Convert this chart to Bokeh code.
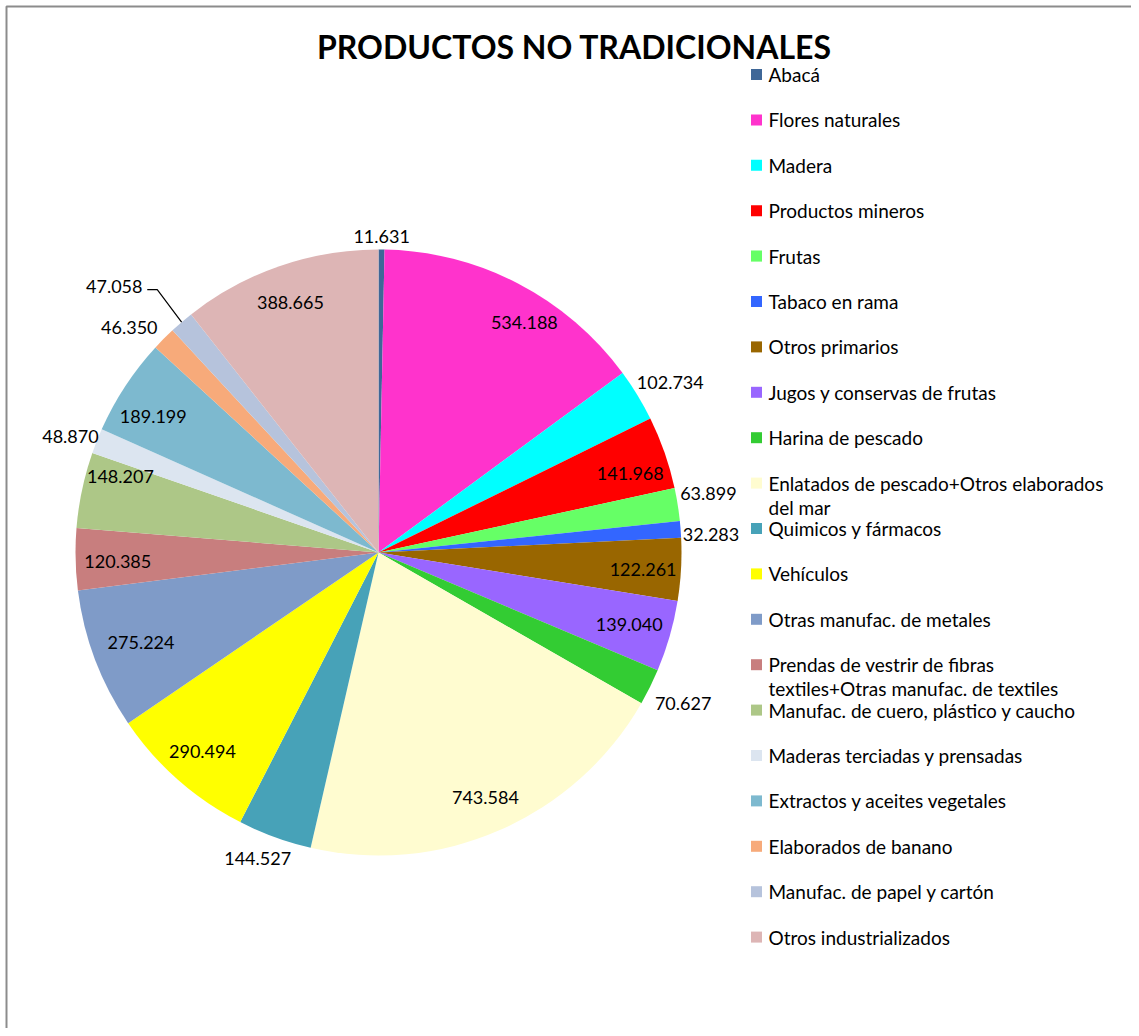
import math
from bokeh.plotting import figure
from bokeh.models import Range1d
from bokeh.core.properties import value
from bokeh.embed import file_html
from bokeh.resources import INLINE

# ---------------- data ----------------
title = "PRODUCTOS NO TRADICIONALES"
categories = [
    "Abacá", "Flores naturales", "Madera", "Productos mineros", "Frutas",
    "Tabaco en rama", "Otros primarios", "Jugos y conservas de frutas",
    "Harina de pescado", "Enlatados de pescado+Otros elaborados del mar",
    "Quimicos y fármacos", "Vehículos", "Otras manufac. de metales",
    "Prendas de vestrir de fibras textiles+Otras manufac. de textiles",
    "Manufac. de cuero, plástico y caucho", "Maderas terciadas y prensadas",
    "Extractos y aceites vegetales", "Elaborados de  banano",
    "Manufac. de papel y cartón", "Otros industrializados",
]
values = [
    11.631, 534.188, 102.734, 141.968, 63.899, 32.283, 122.261, 139.040,
    70.627, 743.584, 144.527, 290.494, 275.224, 120.385, 148.207, 48.870,
    189.199, 46.350, 47.058, 388.665,
]
value_labels = [
    "11.631", "534.188", "102.734", "141.968", "63.899", "32.283", "122.261",
    "139.040", "70.627", "743.584", "144.527", "290.494", "275.224", "120.385",
    "148.207", "48.870", "189.199", "46.350", "47.058", "388.665",
]
# legend display text (wrapped as in the original)
legend_lines = [
    ["Abacá"], ["Flores naturales"], ["Madera"], ["Productos mineros"], ["Frutas"],
    ["Tabaco en rama"], ["Otros primarios"], ["Jugos y conservas de frutas"],
    ["Harina de pescado"], ["Enlatados  de pescado+Otros elaborados", "del mar"],
    ["Quimicos y fármacos"], ["Vehículos"], ["Otras manufac. de metales"],
    ["Prendas de vestrir de fibras", "textiles+Otras manufac.  de textiles"],
    ["Manufac. de cuero, plástico  y caucho"], ["Maderas terciadas y prensadas"],
    ["Extractos y aceites vegetales"], ["Elaborados de  banano"],
    ["Manufac. de papel y cartón"], ["Otros industrializados"],
]

# ---------------- style / layout ----------------
colors = [
    "#3F6797", "#FF33CC", "#00FFFF", "#FF0000", "#66FF66", "#3366FF",
    "#996600", "#9966FF", "#33CC33", "#FFFCD0", "#47A2B8", "#FFFF00",
    "#7F9BC8", "#C87E7E", "#ADC787", "#DCE5F0", "#7DB9CF", "#F7AA7A",
    "#B6C3DC", "#DDB5B5",
]
# label radius (in pie radii) and angle nudge (degrees) per slice
label_r = [1.043, 0.898, 1.115, 0.871, 1.106, 1.099, 0.875, 0.861, 1.122, 0.881,
           1.086, 0.878, 0.838, 0.861, 0.888, 1.086, 0.868, 1.108, 1.237, 0.875]
label_da = [0, 5, 1, 1.8, -1, 1.3, 0.5, 0, 0, 0,
            1.5, 0, 0, -0.7, 4.5, -1, -2.2, -2.8, -4.3, -0.3]

W, H = 1131, 1028
FONT = value("Lato")


def sy(y_screen):
    """picture y (px from top) -> data y"""
    return H - y_screen


def sx(x_screen):
    return x_screen


CX, CY, R = sx(378), sy(552), 303

p = figure(width=W, height=H, output_backend="svg", toolbar_location=None,
           x_range=Range1d(0, W), y_range=Range1d(0, H), min_border=0)
p.axis.visible = False
p.grid.visible = False
p.background_fill_color = "white"
p.border_fill_color = "white"
p.outline_line_color = None

# chart-area frame (left and top edges visible, right/bottom run off)
p.line(x=[sx(6), sx(6), sx(W + 5)], y=[sy(H + 5), sy(6), sy(6)],
       line_color="#8C8C8C", line_width=2)

total = sum(values)
starts, ends, mids = [], [], []
acc = 0.0
for v in values:
    s = acc / total
    acc += v
    e = acc / total
    starts.append(math.radians(90 - 360 * e))
    ends.append(math.radians(90 - 360 * s))
    mids.append(360 * (s + e) / 2)

p.wedge(x=[CX] * len(values), y=[CY] * len(values), radius=R,
        start_angle=starts, end_angle=ends, fill_color=colors,
        line_color=None)

# value labels
lx, ly = [], []
for i in range(len(values)):
    th = math.radians(mids[i] + label_da[i])
    lx.append(CX + label_r[i] * R * math.sin(th))
    ly.append(CY + label_r[i] * R * math.cos(th))
p.text(x=lx, y=ly, text=value_labels, text_align="center", text_baseline="middle",
       text_font=FONT, text_font_size="18px", text_color="black")

# leader line for "Manufac. de papel y cartón"
k = categories.index("Manufac. de papel y cartón")
thk = math.radians(mids[k])
ex, ey = CX + R * math.sin(thk), CY + R * math.cos(thk)
p.line(x=[ex, lx[k] + 43, lx[k] + 33], y=[ey, ly[k] - 3, ly[k] - 3],
       line_color="black", line_width=1.2)

# title
p.text(x=[sx(574)], y=[sy(46)], text=[title], text_align="center",
       text_baseline="middle", text_font=FONT, text_font_size="32px",
       text_font_style="bold", text_color="black")

# legend
row0, step = 74, 45.4
mx, my, tx, ty, tt = [], [], [], [], []
for i, lines in enumerate(legend_lines):
    yy = row0 + i * step
    mx.append(sx(756))
    my.append(sy(yy))
    for j, line in enumerate(lines):
        tx.append(sx(768))
        ty.append(sy(yy + j * 24))
        tt.append(line)
p.rect(x=mx, y=my, width=11, height=11, width_units="screen",
       height_units="screen", fill_color=colors, line_color=None)
p.text(x=tx, y=ty, text=tt, text_align="left", text_baseline="middle",
       text_font=FONT, text_font_size="19px", text_color="black")

open("out.html", "w").write(file_html(p, INLINE))
